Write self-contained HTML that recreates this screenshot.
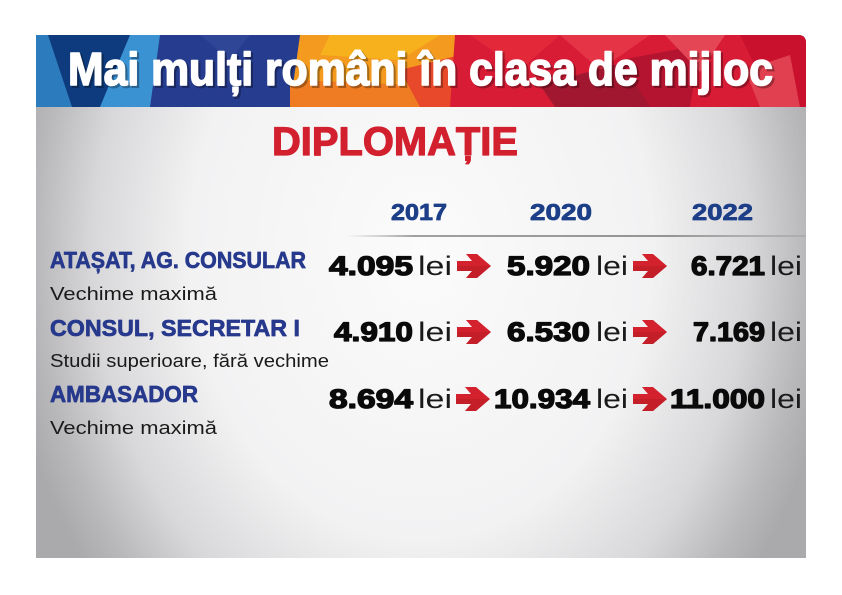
<!DOCTYPE html>
<html><head><meta charset="utf-8"><style>
html,body{margin:0;padding:0;background:#fff;}
svg{display:block;}
</style></head><body>
<svg width="842" height="595" viewBox="0 0 842 595" xmlns="http://www.w3.org/2000/svg">
<defs>
<radialGradient id="bg" cx="421" cy="250" r="420" gradientUnits="userSpaceOnUse" gradientTransform="translate(421 250) scale(1 1.25) translate(-421 -250)">
<stop offset="0" stop-color="#fbfbfb"/>
<stop offset="0.55" stop-color="#f2f2f3"/>
<stop offset="0.78" stop-color="#d8d8da"/>
<stop offset="0.92" stop-color="#b8b8ba"/>
<stop offset="1" stop-color="#aaaaac"/>
</radialGradient>
<linearGradient id="ln" x1="345" y1="0" x2="806" y2="0" gradientUnits="userSpaceOnUse">
<stop offset="0" stop-color="#999" stop-opacity="0"/>
<stop offset="0.15" stop-color="#8a8a8a" stop-opacity="0.8"/>
<stop offset="0.7" stop-color="#8a8a8a" stop-opacity="0.9"/>
<stop offset="1" stop-color="#999" stop-opacity="0.4"/>
</linearGradient>
<clipPath id="cb"><path d="M36 35 H798 Q806 35 806 43 V107 H36 Z"/></clipPath>
<g id="arr">
<polygon points="0,-5 15,-5 9,-12 20,-12 34,0 20,12 9,12 15,5 0,5" fill="#d3222e"/>
<polygon points="0,0 34,0 20,12 9,12 15,5 0,5" fill="#b81b27" opacity="0.55"/>
</g>
</defs>

<!-- body -->
<rect x="36" y="107" width="770" height="451" fill="url(#bg)"/>

<!-- banner -->
<g clip-path="url(#cb)">
<rect x="36" y="35" width="770" height="72" fill="#2c7cbd"/>
<polygon points="48,35 132,35 100,107 72,107" fill="#0d3b7d"/>
<polygon points="130,35 165,35 150,107 100,107" fill="#3a92d2"/>
<polygon points="160,35 312,35 300,107 150,107" fill="#263c8e"/>
<polygon points="200,35 250,35 230,60" fill="#2f4696"/>
<polygon points="300,35 470,35 455,107 290,107" fill="#f39a1f"/>
<polygon points="330,35 440,35 400,60 320,55" fill="#f7b11d"/>
<polygon points="290,80 420,85 430,107 290,107" fill="#ef7c22"/>
<polygon points="400,70 460,55 455,107 420,107" fill="#e8492b"/>
<polygon points="455,35 806,35 806,107 450,107" fill="#d91c36"/>
<polygon points="470,35 560,35 520,70" fill="#e3283a"/>
<polygon points="560,35 650,35 600,70" fill="#e43446"/>
<polygon points="540,85 640,58 670,107 555,107" fill="#a0172f"/>
<polygon points="620,60 700,45 690,107 650,107" fill="#b4142f"/>
<polygon points="665,35 725,35 700,72" fill="#e54656"/>
<polygon points="740,35 806,35 806,107 775,107" fill="#c9112e"/>
<polygon points="745,70 790,55 800,107 760,107" fill="#e0404f"/>
</g>

<!-- title -->
<text x="70" y="87" font-family="Liberation Sans, sans-serif" font-weight="bold" font-size="46" fill="#000" stroke="#000" stroke-width="2" opacity="0.3" textLength="705" lengthAdjust="spacingAndGlyphs">Mai mulți români în clasa de mijloc</text>
<text x="68" y="85" font-family="Liberation Sans, sans-serif" font-weight="bold" font-size="46" fill="#fff" stroke="#fff" stroke-width="1.6" stroke-linejoin="round" textLength="705" lengthAdjust="spacingAndGlyphs">Mai mulți români în clasa de mijloc</text>

<!-- heading -->
<text x="272" y="155" font-family="Liberation Sans, sans-serif" font-weight="bold" font-size="40" fill="#d2202f" stroke="#d2202f" stroke-width="1.2" stroke-linejoin="round" textLength="246" lengthAdjust="spacingAndGlyphs">DIPLOMAȚIE</text>

<!-- years -->
<g font-family="Liberation Sans, sans-serif" font-weight="bold" font-size="23" fill="#1d3f88" stroke="#1d3f88" stroke-width="0.8" stroke-linejoin="round">
<text x="391" y="220" textLength="56" lengthAdjust="spacingAndGlyphs">2017</text>
<text x="530" y="220" textLength="62" lengthAdjust="spacingAndGlyphs">2020</text>
<text x="692" y="220" textLength="61" lengthAdjust="spacingAndGlyphs">2022</text>
</g>
<rect x="345" y="235" width="461" height="2" fill="url(#ln)"/>

<!-- labels -->
<g font-family="Liberation Sans, sans-serif" font-weight="bold" font-size="23" fill="#27398c" stroke="#27398c" stroke-width="0.7" stroke-linejoin="round">
<text x="50" y="268" textLength="256" lengthAdjust="spacingAndGlyphs">ATAȘAT, AG. CONSULAR</text>
<text x="50" y="336" textLength="250" lengthAdjust="spacingAndGlyphs">CONSUL, SECRETAR I</text>
<text x="50" y="402" textLength="148" lengthAdjust="spacingAndGlyphs">AMBASADOR</text>
</g>
<g font-family="Liberation Sans, sans-serif" font-size="18" fill="#1a1a1a">
<text x="50" y="300" textLength="167" lengthAdjust="spacingAndGlyphs">Vechime maximă</text>
<text x="50" y="367" textLength="279" lengthAdjust="spacingAndGlyphs">Studii superioare, fără vechime</text>
<text x="50" y="434" textLength="167" lengthAdjust="spacingAndGlyphs">Vechime maximă</text>
</g>

<!-- values -->
<g font-family="Liberation Sans, sans-serif" font-weight="bold" font-size="27" fill="#0a0a0a" stroke="#0a0a0a" stroke-width="1.3" stroke-linejoin="round">
<text x="329" y="275" textLength="84" lengthAdjust="spacingAndGlyphs">4.095</text>
<text x="507" y="275" textLength="83" lengthAdjust="spacingAndGlyphs">5.920</text>
<text x="691" y="275" textLength="74" lengthAdjust="spacingAndGlyphs">6.721</text>
<text x="334" y="341" textLength="79" lengthAdjust="spacingAndGlyphs">4.910</text>
<text x="507" y="341" textLength="83" lengthAdjust="spacingAndGlyphs">6.530</text>
<text x="693" y="341" textLength="72" lengthAdjust="spacingAndGlyphs">7.169</text>
<text x="329" y="408" textLength="84" lengthAdjust="spacingAndGlyphs">8.694</text>
<text x="494" y="408" textLength="96" lengthAdjust="spacingAndGlyphs">10.934</text>
<text x="670" y="408" textLength="95" lengthAdjust="spacingAndGlyphs">11.000</text>
</g>
<g font-family="Liberation Sans, sans-serif" font-size="27" fill="#1a1a1a">
<text x="418" y="275" textLength="34" lengthAdjust="spacingAndGlyphs">lei</text>
<text x="596" y="275" textLength="32" lengthAdjust="spacingAndGlyphs">lei</text>
<text x="770" y="275" textLength="32" lengthAdjust="spacingAndGlyphs">lei</text>
<text x="418" y="341" textLength="34" lengthAdjust="spacingAndGlyphs">lei</text>
<text x="596" y="341" textLength="32" lengthAdjust="spacingAndGlyphs">lei</text>
<text x="770" y="341" textLength="32" lengthAdjust="spacingAndGlyphs">lei</text>
<text x="418" y="408" textLength="34" lengthAdjust="spacingAndGlyphs">lei</text>
<text x="596" y="408" textLength="32" lengthAdjust="spacingAndGlyphs">lei</text>
<text x="770" y="408" textLength="32" lengthAdjust="spacingAndGlyphs">lei</text>
</g>

<!-- arrows -->
<use href="#arr" x="457" y="266"/>
<use href="#arr" x="633" y="266"/>
<use href="#arr" x="457" y="332"/>
<use href="#arr" x="633" y="332"/>
<use href="#arr" x="456" y="399"/>
<use href="#arr" x="633" y="399"/>
</svg>
</body></html>
